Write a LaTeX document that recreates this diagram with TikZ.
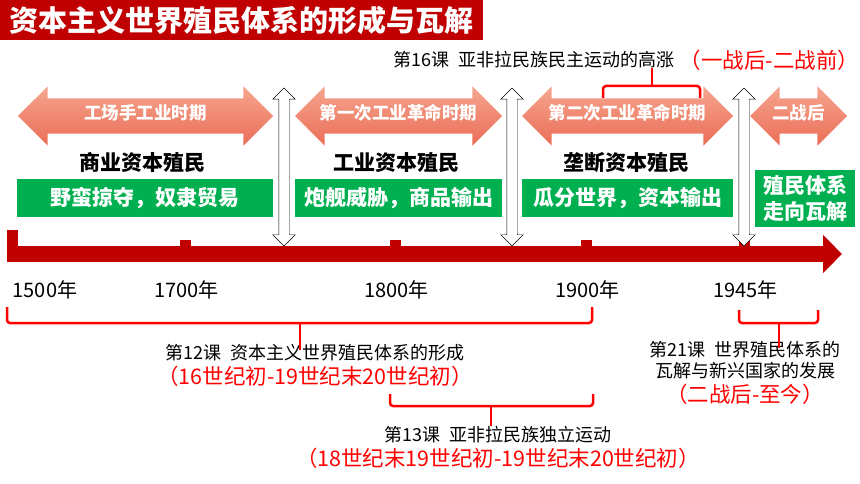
\documentclass[tikz,border=0pt]{standalone}
\usepackage{fontspec}
\setmainfont{Noto Sans CJK SC}
\usetikzlibrary{arrows.meta, positioning, shapes.arrows}
\definecolor{TitleRed}{HTML}{C00000}
\definecolor{BraceRed}{HTML}{FF0000}
\definecolor{BoxGreen}{HTML}{00B050}
\definecolor{ArrowTop}{HTML}{F6A590}
\definecolor{ArrowBottom}{HTML}{EA6D55}

\begin{document}
\begin{tikzpicture}[
    x=1pt, y=-1pt,
    every node/.style={inner sep=0pt},
    titlebar/.style={rectangle, fill=TitleRed, text=white, minimum width=483pt, minimum height=40pt, font=\fontsize{29}{32}\selectfont\bfseries},
    period/.style={double arrow, double arrow head extend=12pt, top color=ArrowTop, bottom color=ArrowBottom, draw=none, text=white, font=\fontsize{17.5}{20}\selectfont\bfseries, inner xsep=2pt, inner ysep=9pt, text height=12.5pt, text depth=4.5pt, minimum width=58pt},
    divider/.style={double arrow, shape border rotate=90, double arrow head extend=6pt, fill=white, draw=black, thin, inner sep=5pt, minimum width=22pt, minimum height=158pt},
    stage/.style={font=\fontsize{21}{24}\selectfont\bfseries},
    feature/.style={rectangle, fill=BoxGreen, text=white, font=\fontsize{21}{26}\selectfont\bfseries, align=center, minimum height=38pt},
    year/.style={font=\fontsize{20}{22}\selectfont},
    lesson/.style={font=\fontsize{18}{21}\selectfont, align=center},
    span/.style={text=BraceRed, font=\fontsize{21.5}{24}\selectfont},
    brace/.style={draw=BraceRed, line width=2.5pt, rounded corners=3pt},
    timeline/.style={draw=TitleRed, line width=16pt, -{Triangle[length=19pt, width=37pt]}},
    tick/.style={fill=TitleRed}
]
\useasboundingbox (0,0) rectangle (860,484);

% title
\node[titlebar, anchor=north west] (title) at (0,0) {资本主义世界殖民体系的形成与瓦解};

% lesson 16 on top
\node[lesson] (l16) at (534,60) {第16课\hspace{.5em}亚非拉民族民主运动的高涨};
\node[span, right=5pt of l16] (p16) {（一战后-二战前）};

% periods
\node[period, minimum height=255pt] (p1) at (145.5,116) {工场手工业时期};
\node[period, minimum height=207pt] (p2) at (398.5,116) {第一次工业革命时期};
\node[period, minimum height=211pt] (p3) at (627.5,116) {第二次工业革命时期};
\node[period, minimum height=97pt] (p4) at (798.5,116) {二战后};

\node[stage] (s1) at (142,163) {商业资本殖民};
\node[stage] (s2) at (396,163) {工业资本殖民};
\node[stage] (s3) at (626,163) {垄断资本殖民};

\node[feature, minimum width=256pt] (f1) at (145,198) {野蛮掠夺，奴隶贸易};
\node[feature, minimum width=207pt] (f2) at (398.5,198) {炮舰威胁，商品输出};
\node[feature, minimum width=211pt] (f3) at (627.5,198) {瓜分世界，资本输出};
\node[feature, minimum width=100pt, minimum height=57pt] (f4) at (805,198.5) {殖民体系\\走向瓦解};

% time axis
\coordinate (tstart) at (7,254);
\coordinate (tend) at (842,254);
\draw[timeline] (tstart) -- (tend);
\fill[tick] (7,230) rectangle (18,262);
\node[year] (y1500) at (45,290) {1500年};
\foreach \x/\yr in {185/1700, 395/1800, 586/1900, 744/1945} {
  \fill[tick] (\x-5.5,240) rectangle (\x+5.5,247);
  \node[year] (y\yr) at (\x+1.5,290) {\yr 年};
}

% dividers
\node[divider] (d1) at (284,167) {};
\node[divider] (d2) at (512,167) {};
\node[divider] (d3) at (744,167) {};

% braces
\coordinate (b16) at (652,86);
\draw[brace] (603,98) |- (700,86) -- (700,98);
\draw[brace] (b16) -- ++(0,-18);

\coordinate (b12) at (300,323);
\draw[brace] (7,307) |- (592,323) -- (592,307);
\coordinate (b13) at (491,406);
\draw[brace] (390,394) |- (593,406) -- (593,394);
\coordinate (b21) at (779,323);
\draw[brace] (739,310) |- (818,323) -- (818,310);

% lessons below
\node[lesson] (l12) at (315,353) {第12课\hspace{.5em}资本主义世界殖民体系的形成};
\node[span, below=4pt of l12] (p12) {（16世纪初-19世纪末20世纪初）};
\node[lesson] (l13) at (498,435) {第13课\hspace{.5em}亚非拉民族独立运动};
\node[span, below=4pt of l13] (p13) {（18世纪末19世纪初-19世纪末20世纪初）};
\node[lesson] (l21) at (745,360.5) {第21课\hspace{.5em}世界殖民体系的\\瓦解与新兴国家的发展};
\node[span, below=4pt of l21] (p21) {（二战后-至今）};

\draw[brace] (b12) -- ++(0,27);
\draw[brace] (b13) -- ++(0,20);
\draw[brace] (b21) -- ++(0,25);

\end{tikzpicture}
\end{document}
